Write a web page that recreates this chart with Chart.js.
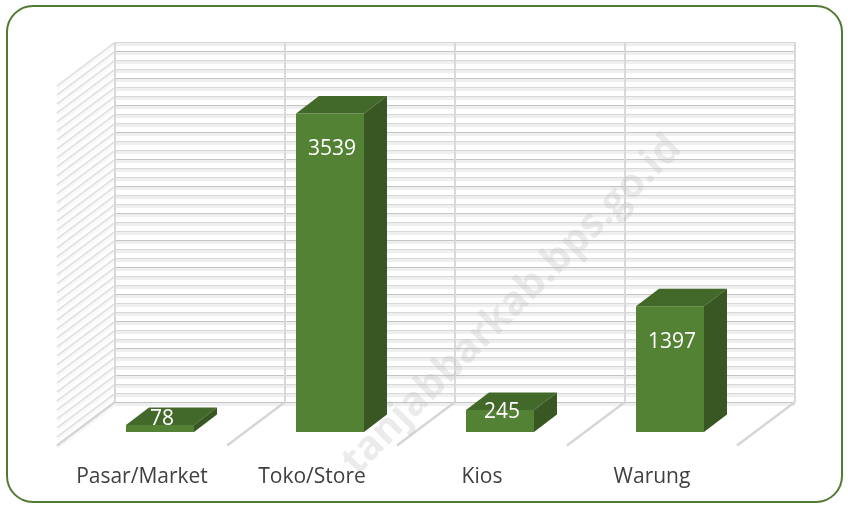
<!DOCTYPE html>
<html>
<head>
<meta charset="utf-8">
<script src="https://cdn.jsdelivr.net/npm/chart.js@4/dist/chart.umd.min.js"></script>
<style>
  html, body { margin: 0; padding: 0; background: #ffffff; }
  #wrap { width: 848px; height: 508px; }
</style>
</head>
<body>
<div id="wrap"><canvas id="chartdiv" width="848" height="508"></canvas></div>
<script>
var categories = ["Pasar/Market", "Toko/Store", "Kios", "Warung"];
var outletCounts = [78, 3539, 245, 1397];
var axisMin = 0;
var axisMax = 4000;
var gridStep = 100;

// perspective offsets (front plane -> back wall)
var depthX = 40, depthY = -30;
var barDepthX = 23, barDepthY = -17.5;

var frontColor = "#548235";
var topColor = "#43692a";
var sideColor = "#385723";

var threeD = {
  id: "threeD",
  beforeDatasetsDraw: function (chart) {
    var ctx = chart.ctx;
    var ys = chart.scales.y;
    var area = chart.chartArea;
    var bx0 = area.left + depthX, bx1 = area.right + depthX;
    var by0 = ys.getPixelForValue(axisMax) + depthY;
    var by1 = ys.getPixelForValue(axisMin) + depthY;
    ctx.save();
    // back wall + left wall grid lines
    for (var v = axisMin; v <= axisMax; v += gridStep) {
      var y = Math.round(ys.getPixelForValue(v) + depthY) + 0.5;
      ctx.fillStyle = "#efefef";
      ctx.fillRect(bx0, y + 0.5, bx1 - bx0, 3);
      ctx.strokeStyle = (v / gridStep) % 3 === 0 ? "#c4c4c4" : "#d8d8d8";
      ctx.lineWidth = 1;
      ctx.beginPath();
      ctx.moveTo(bx0, y);
      ctx.lineTo(bx1, y);
      ctx.stroke();
      // left wall hatch
      ctx.strokeStyle = "#e2e2e2";
      ctx.lineWidth = 2;
      ctx.beginPath();
      ctx.moveTo(bx0, y);
      ctx.lineTo(bx0 - depthX * 1.45, y - depthY * 1.45);
      ctx.stroke();
      ctx.strokeStyle = "#f2f2f2";
      ctx.lineWidth = 1;
      ctx.beginPath();
      ctx.moveTo(bx0, y + 3);
      ctx.lineTo(bx0 - depthX * 1.45, y + 3 - depthY * 1.45);
      ctx.stroke();
    }
    // category dividers on back wall and floor
    var step = (area.right - area.left) / categories.length;
    for (var i = 0; i <= categories.length; i++) {
      var x = area.left + depthX + step * i;
      ctx.strokeStyle = "#d9d9d9";
      ctx.lineWidth = 2;
      ctx.beginPath();
      ctx.moveTo(x, by0);
      ctx.lineTo(x, by1);
      ctx.stroke();
      ctx.strokeStyle = "#d6d6d6";
      ctx.lineWidth = 2.5;
      ctx.beginPath();
      ctx.moveTo(x, by1);
      ctx.lineTo(x - depthX * 1.45, by1 - depthY * 1.45);
      ctx.stroke();
    }
    ctx.restore();
  },
  afterDatasetsDraw: function (chart) {
    var ctx = chart.ctx;
    var meta = chart.getDatasetMeta(0);
    ctx.save();
    meta.data.forEach(function (bar, i) {
      var l = bar.x - bar.width / 2, r = bar.x + bar.width / 2;
      var t = bar.y, b = bar.base;
      // top face
      ctx.fillStyle = topColor;
      ctx.beginPath();
      ctx.moveTo(l, t);
      ctx.lineTo(l + barDepthX, t + barDepthY);
      ctx.lineTo(r + barDepthX, t + barDepthY);
      ctx.lineTo(r, t);
      ctx.closePath();
      ctx.fill();
      // side face
      ctx.fillStyle = sideColor;
      ctx.beginPath();
      ctx.moveTo(r, t);
      ctx.lineTo(r + barDepthX, t + barDepthY);
      ctx.lineTo(r + barDepthX, b + barDepthY);
      ctx.lineTo(r, b);
      ctx.closePath();
      ctx.fill();
      // value label
      var h = b - t;
      var off = Math.min(36, h * 0.53 - 9.7);
      ctx.fillStyle = "#ffffff";
      ctx.font = "21px 'Open Sans'";
      ctx.textAlign = "center";
      ctx.textBaseline = "middle";
      ctx.fillText(String(outletCounts[i]), bar.x + 2, t + off);
    });
    ctx.restore();
  },
  afterDraw: function (chart) {
    var ctx = chart.ctx;
    var xs = chart.scales.x;
    ctx.save();
    // category labels at floor front edge
    ctx.fillStyle = "#404040";
    ctx.font = "21px 'Open Sans'";
    ctx.textAlign = "center";
    ctx.textBaseline = "middle";
    categories.forEach(function (c, i) {
      ctx.fillText(c, xs.getPixelForValue(i) - 18, 477);
    });
    // watermark
    ctx.translate(512, 305);
    ctx.rotate(-Math.PI / 4);
    ctx.fillStyle = "rgba(190,190,190,0.3)";
    ctx.font = "bold 40px 'Open Sans'";
    ctx.fillText("tanjabbarkab.bps.go.id", 0, 0);
    ctx.restore();
    // rounded border
    ctx.save();
    ctx.strokeStyle = "#4f7a30";
    ctx.lineWidth = 2;
    ctx.beginPath();
    ctx.roundRect(7, 6, 835, 496, 26);
    ctx.stroke();
    ctx.restore();
  }
};

var chart = new Chart(document.getElementById("chartdiv"), {
  type: "bar",
  data: {
    labels: categories,
    datasets: [{
      data: outletCounts,
      backgroundColor: frontColor,
      borderWidth: 0,
      barPercentage: 0.4,
      categoryPercentage: 1.0
    }]
  },
  options: {
    responsive: false,
    animation: false,
    layout: { padding: { left: 75, right: 93, top: 72, bottom: 76 } },
    plugins: { legend: { display: false }, tooltip: { enabled: false } },
    scales: {
      x: { display: false, offset: true },
      y: { display: false, min: axisMin, max: axisMax }
    }
  },
  plugins: [threeD]
});
</script>
</body>
</html>
